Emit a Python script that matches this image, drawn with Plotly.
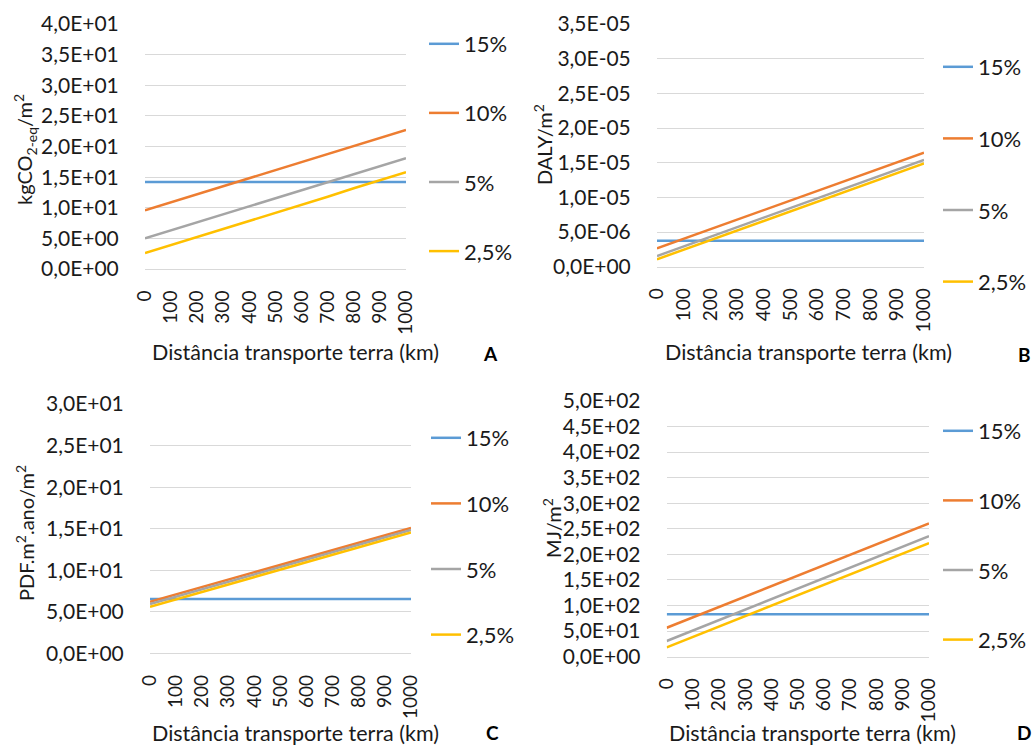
import plotly.graph_objects as go

W, H = 1032, 745

distancia = [0, 100, 200, 300, 400, 500, 600, 700, 800, 900, 1000]
x_labels = ["0", "100", "200", "300", "400", "500", "600", "700", "800", "900", "1000"]
series_names = ["15%", "10%", "5%", "2,5%"]

# Panel A - kgCO2-eq/m2
a_15 = [14.2] * 11
a_10 = [9.6, 10.9, 12.2, 13.5, 14.8, 16.2, 17.5, 18.8, 20.1, 21.4, 22.7]
a_5 = [5.0, 6.3, 7.6, 8.9, 10.2, 11.5, 12.9, 14.2, 15.5, 16.8, 18.1]
a_25 = [2.6, 3.9, 5.2, 6.6, 7.9, 9.2, 10.5, 11.8, 13.2, 14.5, 15.8]
a_ticks = [0, 5, 10, 15, 20, 25, 30, 35, 40]
a_ticktext = ["0,0E+00", "5,0E+00", "1,0E+01", "1,5E+01", "2,0E+01",
              "2,5E+01", "3,0E+01", "3,5E+01", "4,0E+01"]

# Panel B - DALY/m2
b_15 = [3.75e-6] * 11
b_10 = [2.65e-6, 4.03e-6, 5.41e-6, 6.79e-6, 8.17e-6, 9.55e-6, 10.92e-6, 12.30e-6, 13.68e-6, 15.06e-6, 16.44e-6]
b_5 = [1.54e-6, 2.93e-6, 4.31e-6, 5.70e-6, 7.08e-6, 8.47e-6, 9.86e-6, 11.24e-6, 12.63e-6, 14.01e-6, 15.40e-6]
b_25 = [1.07e-6, 2.45e-6, 3.84e-6, 5.22e-6, 6.60e-6, 7.99e-6, 9.37e-6, 10.75e-6, 12.13e-6, 13.52e-6, 14.90e-6]
b_ticks = [0, 5e-6, 1e-5, 1.5e-5, 2e-5, 2.5e-5, 3e-5, 3.5e-5]
b_ticktext = ["0,0E+00", "5,0E-06", "1,0E-05", "1,5E-05", "2,0E-05",
              "2,5E-05", "3,0E-05", "3,5E-05"]

# Panel C - PDF.m2.ano/m2
c_15 = [6.55] * 11
c_10 = [6.20, 7.09, 7.98, 8.87, 9.76, 10.65, 11.54, 12.43, 13.32, 14.21, 15.10]
c_5 = [5.93, 6.82, 7.71, 8.61, 9.50, 10.39, 11.28, 12.17, 13.07, 13.96, 14.85]
c_25 = [5.60, 6.50, 7.39, 8.29, 9.18, 10.08, 10.97, 11.87, 12.76, 13.66, 14.55]
c_ticks = [0, 5, 10, 15, 20, 25, 30]
c_ticktext = ["0,0E+00", "5,0E+00", "1,0E+01", "1,5E+01", "2,0E+01",
              "2,5E+01", "3,0E+01"]

# Panel D - MJ/m2
d_15 = [82.8] * 11
d_10 = [56.6, 77.0, 97.4, 117.8, 138.2, 158.6, 178.9, 199.3, 219.7, 240.1, 260.5]
d_5 = [30.7, 51.2, 71.7, 92.2, 112.7, 133.2, 153.7, 174.2, 194.7, 215.2, 235.7]
d_25 = [18.3, 38.7, 59.0, 79.4, 99.8, 120.2, 140.5, 160.9, 181.3, 201.6, 222.0]
d_ticks = [0, 50, 100, 150, 200, 250, 300, 350, 400, 450, 500]
d_ticktext = ["0,0E+00", "5,0E+01", "1,0E+02", "1,5E+02", "2,0E+02", "2,5E+02",
              "3,0E+02", "3,5E+02", "4,0E+02", "4,5E+02", "5,0E+02"]

y_titles = ["kgCO<sub>2-eq</sub>/m<sup>2</sup>", "DALY/m<sup>2</sup>",
            "PDF.m<sup>2</sup>.ano/m<sup>2</sup>", "MJ/m<sup>2</sup>"]
x_title = "Distância transporte terra (km)"
panel_labels = ["A", "B", "C", "D"]

colors = ["#5B9BD5", "#ED7D31", "#A5A5A5", "#FFC000"]
FONT = "Lato, Carlito, Calibri, sans-serif"
TXT = "#1a1a1a"
GRID = "#D9D9D9"
YTICK_SIZE = 21
XTICK_SIZE = 19
LEG_SIZE = 22

panels = [
    dict(data=[a_15, a_10, a_5, a_25], ticks=a_ticks, ticktext=a_ticktext,
         px=(145, 406), py=(24, 269), leg=(424, 23), gap=37.5,
         ytitle=(25, 150), xtitle=(295, 352), label=(490, 353)),
    dict(data=[b_15, b_10, b_5, b_25], ticks=b_ticks, ticktext=b_ticktext,
         px=(657, 924), py=(24, 266.7), leg=(938, 46), gap=40,
         ytitle=(543, 145), xtitle=(808, 352), label=(1024, 354)),
    dict(data=[c_15, c_10, c_5, c_25], ticks=c_ticks, ticktext=c_ticktext,
         px=(150, 411), py=(404, 653.3), leg=(426, 417), gap=34,
         ytitle=(25, 533), xtitle=(295, 733), label=(492, 732)),
    dict(data=[d_15, d_10, d_5, d_25], ticks=d_ticks, ticktext=d_ticktext,
         px=(666.7, 929), py=(400.7, 656.7), leg=(938, 410), gap=38,
         ytitle=(552, 528), xtitle=(812, 733), label=(1024, 732)),
]

fig = go.Figure()
layout = dict(width=W, height=H, margin=dict(l=0, r=0, t=0, b=0, autoexpand=False),
              paper_bgcolor="white", plot_bgcolor="white",
              font=dict(family=FONT, color=TXT, size=19), showlegend=True)
annotations = []

for i, p in enumerate(panels):
    n = "" if i == 0 else str(i + 1)
    leg = "legend" if i == 0 else "legend" + n
    for j, (name, vals) in enumerate(zip(series_names, p["data"])):
        fig.add_trace(go.Scatter(
            x=distancia, y=vals, mode="lines", name=name,
            line=dict(color=colors[j], width=2.5),
            xaxis="x" + n, yaxis="y" + n, legend=leg,
            legendgroup=f"g{i}_{j}", hoverinfo="skip"))
    x0, x1 = p["px"]
    yt, yb = p["py"]
    layout["xaxis" + n] = dict(
        domain=[x0 / W, x1 / W], anchor="y" + n, range=[0, 1000],
        tickvals=distancia, ticktext=x_labels, tickangle=-90,
        showgrid=False, zeroline=False, showline=True, linecolor=GRID,
        ticks="outside", ticklen=13, tickcolor="rgba(0,0,0,0)", automargin=False,
        tickfont=dict(size=XTICK_SIZE, family=FONT, color=TXT), fixedrange=True)
    top = p["ticks"][-1]
    layout["yaxis" + n] = dict(
        domain=[1 - yb / H, 1 - yt / H], anchor="x" + n,
        range=[0, top * 1.0005], tickvals=p["ticks"], ticktext=p["ticktext"],
        showgrid=True, gridcolor=GRID, gridwidth=1, zeroline=False,
        showline=False, ticks="outside", ticklen=21, tickcolor="rgba(0,0,0,0)",
        automargin=False,
        tickfont=dict(size=YTICK_SIZE, family=FONT, color=TXT), fixedrange=True)
    lx, ly = p["leg"]
    layout[leg] = dict(
        x=lx / W, y=1 - ly / H, xanchor="left", yanchor="top",
        xref="paper", yref="paper", bgcolor="rgba(0,0,0,0)",
        font=dict(size=LEG_SIZE, family=FONT, color=TXT),
        itemwidth=30, tracegroupgap=p["gap"], traceorder="grouped")
    tx, ty = p["ytitle"]
    annotations.append(dict(
        text=y_titles[i], x=tx / W, y=1 - ty / H, xref="paper", yref="paper",
        textangle=-90, showarrow=False, xanchor="center", yanchor="middle",
        font=dict(size=20, family=FONT, color=TXT)))
    tx, ty = p["xtitle"]
    annotations.append(dict(
        text=x_title, x=tx / W, y=1 - ty / H, xref="paper", yref="paper",
        showarrow=False, xanchor="center", yanchor="middle",
        font=dict(size=21.5, family=FONT, color=TXT)))
    tx, ty = p["label"]
    annotations.append(dict(
        text="<b>" + panel_labels[i] + "</b>", x=tx / W, y=1 - ty / H,
        xref="paper", yref="paper", showarrow=False, xanchor="center",
        yanchor="middle", font=dict(size=19, family=FONT, color="black")))

layout["annotations"] = annotations
fig.update_layout(**layout)
fig.write_html("out.html", config={"displayModeBar": False},
               post_script="document.body.style.margin='0';document.body.style.overflow='hidden';")
